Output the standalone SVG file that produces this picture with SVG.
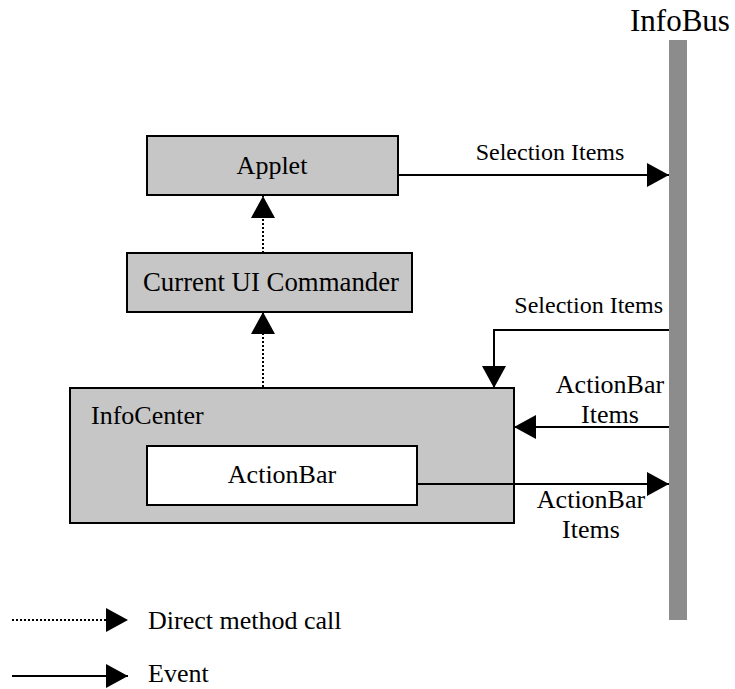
<svg xmlns="http://www.w3.org/2000/svg" width="735" height="689" viewBox="0 0 735 689">
  <style>
    text { font-family: "Liberation Serif", "Times New Roman", serif; fill: #000; }
    .box { fill: #c6c6c6; stroke: #000; stroke-width: 2; }
    .inner { fill: #fff; stroke: #000; stroke-width: 2; }
    .ev { fill: none; stroke: #000; stroke-width: 2; marker-end: url(#ah); }
    .dm { fill: none; stroke: #000; stroke-width: 2; stroke-dasharray: 2 2; marker-end: url(#ah); }
    .lbl { font-size: 26px; }
    .sel { font-size: 24px; }
  </style>
  <defs>
    <marker id="ah" markerUnits="userSpaceOnUse" markerWidth="22" markerHeight="24" refX="22" refY="12" orient="auto">
      <path d="M0,0 L22,12 L0,24 Z" fill="#000"/>
    </marker>
  </defs>
  <rect width="735" height="689" fill="#fff"/>

  <g id="infobus">
    <rect x="669" y="40" width="18" height="580" fill="#8c8c8c"/>
    <text x="680" y="31" font-size="31" text-anchor="middle">InfoBus</text>
  </g>

  <g id="applet">
    <rect class="box" x="147" y="136" width="251" height="59"/>
    <text class="lbl" x="272" y="174" text-anchor="middle">Applet</text>
  </g>

  <g id="commander">
    <rect class="box" x="127" y="253" width="285" height="59"/>
    <text x="271" y="291" font-size="26.8" text-anchor="middle">Current UI Commander</text>
  </g>

  <g id="infocenter">
    <rect class="box" x="70" y="388" width="444" height="135"/>
    <text class="lbl" x="91" y="424">InfoCenter</text>
  </g>

  <g id="actionbar">
    <rect class="inner" x="147" y="446" width="270" height="59"/>
    <text class="lbl" x="282" y="483" text-anchor="middle">ActionBar</text>
  </g>

  <g id="connectors">
    <path class="ev" d="M398,175 H669"/>
    <path class="ev" d="M669,330 H494 V388"/>
    <path class="ev" d="M669,427 H514"/>
    <path class="ev" d="M417,484 H669"/>
    <path class="dm" d="M263,253 V196"/>
    <path class="dm" d="M263,387 V312"/>
  </g>

  <g id="labels">
    <text class="sel" x="550" y="160" text-anchor="middle">Selection Items</text>
    <text class="sel" x="663" y="313" text-anchor="end">Selection Items</text>
    <text class="lbl" x="610" y="393" text-anchor="middle">ActionBar</text>
    <text class="lbl" x="610" y="423" text-anchor="middle">Items</text>
    <text class="lbl" x="591" y="508" text-anchor="middle">ActionBar</text>
    <text class="lbl" x="591" y="538" text-anchor="middle">Items</text>
  </g>

  <g id="legend">
    <path class="dm" d="M12,620 H128"/>
    <text class="lbl" x="148" y="629">Direct method call</text>
    <path class="ev" d="M12,676 H128"/>
    <text class="lbl" x="148" y="682">Event</text>
  </g>
</svg>
